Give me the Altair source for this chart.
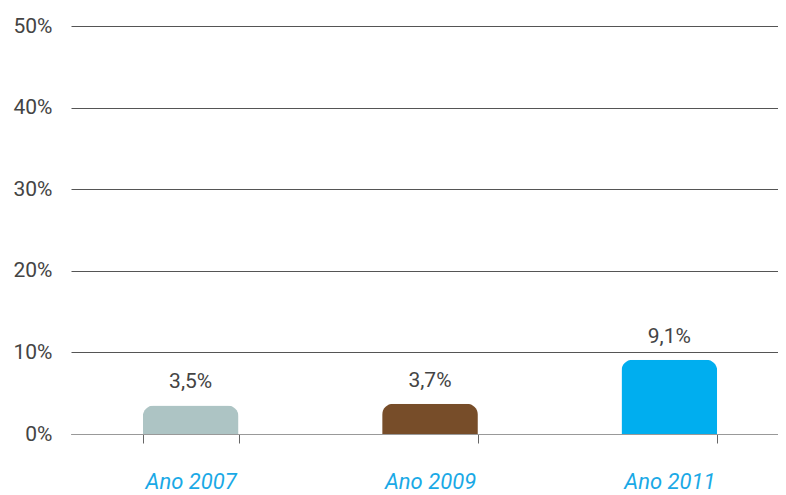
import altair as alt
import pandas as pd

categories = ["Ano 2007", "Ano 2009", "Ano 2011"]
values = [3.5, 3.7, 9.1]
labels = ["3,5%", "3,7%", "9,1%"]
colors = ["#adc4c4", "#774d29", "#00aeef"]

df = pd.DataFrame({"cat": categories, "val": values, "lab": labels, "col": colors})

FONT = "Roboto"

x = alt.X("cat:N", sort=categories, title=None,
          scale=alt.Scale(paddingInner=0.6, paddingOuter=0.3, range=[0, 718]),
          axis=alt.Axis(tickBand="extent", labelAngle=0, labelFont=FONT,
                        labelFontSize=22, labelFontStyle="italic", labelColor="#1aa9e6",
                        labelPadding=28, tickSize=9, tickColor="#666", domainColor="#999",
                        grid=False))
y = alt.Y("val:Q", title=None,
          scale=alt.Scale(domain=[0, 50], nice=False),
          axis=alt.Axis(values=[0, 10, 20, 30, 40, 50], labelExpr="datum.value + '%'",
                        labelFont=FONT, labelFontSize=21, labelColor="#444",
                        labelPadding=19, domain=False, ticks=False,
                        grid=True, gridColor="#555", gridWidth=1))

bars = alt.Chart(df).mark_bar(cornerRadiusTopLeft=11, cornerRadiusTopRight=11).encode(
    x=x, y=y, color=alt.Color("col:N", scale=None)
)
text = alt.Chart(df).mark_text(font=FONT, fontSize=21, color="#444", baseline="alphabetic", dy=-17).encode(
    x=alt.X("cat:N", sort=categories), y="val:Q", text="lab:N"
)

chart = (bars + text).properties(
    width=707, height=408,
    autosize=alt.AutoSizeParams(type="none"),
    padding={"left": 63, "top": 18, "right": 0, "bottom": 58},
).configure_view(stroke=None)

chart.save("out.html", embed_options={"renderer": "svg", "actions": False})
